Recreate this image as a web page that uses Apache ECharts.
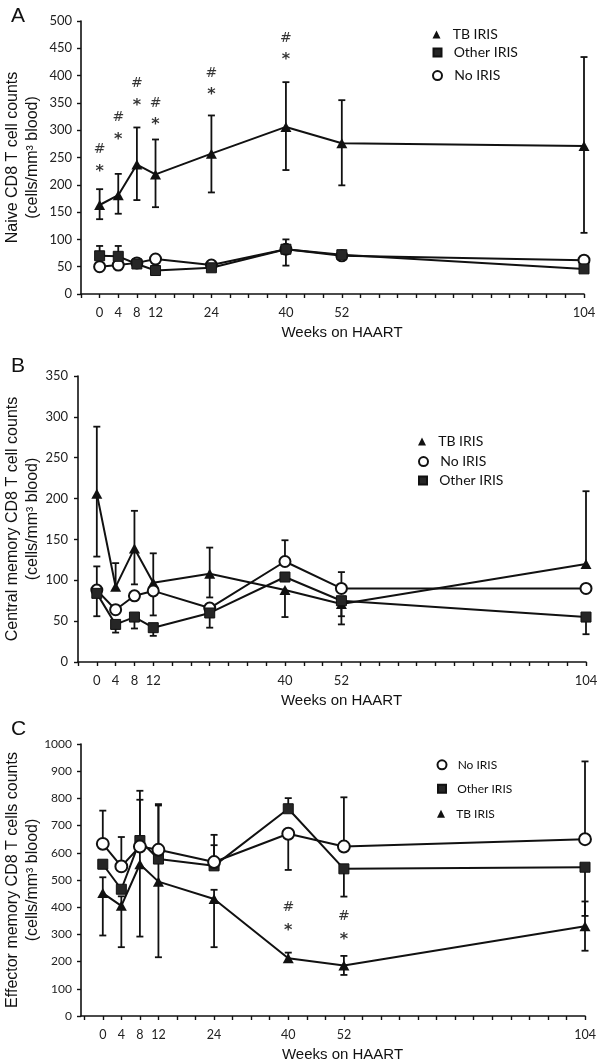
<!DOCTYPE html>
<html>
<head>
<meta charset="utf-8">
<script src="https://cdn.jsdelivr.net/npm/echarts@6/dist/echarts.min.js"></script>
<style>html,body{margin:0;padding:0;background:#fff}#c{width:600px;height:1063px}</style>
</head>
<body>
<div id="c"></div>
<script>
// ---- shared x values / tick labels ----
const weeks = [0, 4, 8, 12, 24, 40, 52, 104];
const xTicks = [-4,0,4,8,12,16,20,24,28,32,36,40,44,48,52,56,60,64,68,72,76,80,84,88,92,96,100,104];
const xLabelsAC = [0, 4, 8, 12, 24, 40, 52, 104];
const xLabelsB = [0, 4, 8, 12, 40, 52, 104];

// ---- Panel A: Naive CD8 T cells ----
const naiveTB      = [163, 181, 237, 219, 257, 306, 276, 271];
const naiveTBHi    = [192, 220, 305, 283, 327, 388, 355, 434];
const naiveTBLo    = [137, 147, 172, 159, 186, 227, 199, 112];
const naiveOther   = [70, 69, 55, 43, 48, 82, 72, 46];
const naiveOtherHi = [88, 88, null, null, null, 100, null, null];
const naiveOtherLo = [null, null, null, null, null, 52, null, null];
const naiveNo      = [50, 53, 57, 64, 53, 82, 70, 62];
const naiveNoHi    = [null, null, null, null, null, null, null, null];
const naiveNoLo    = [null, null, null, null, null, null, null, null];
const naiveSigWeeks = [0, 4, 8, 12, 24, 40];
const naiveHashY    = [264, 324, 385, 349, 405, 468];
const naiveStarY    = [231, 290, 352, 317, 372, 436];

// ---- Panel B: Central memory CD8 T cells ----
const cmTB      = [206, 92, 139, 97, 108, 88, 71, 120];
const cmTBHi    = [288, 121, 185, 133, 140, null, null, 209];
const cmTBLo    = [129, null, 95, 57, 79, 55, 56, null];
const cmNo      = [88, 64, 81, 87, 66, 123, 90, 90];
const cmNoHi    = [117, null, null, null, null, 149, 110, null];
const cmNoLo    = [56, null, null, null, null, null, null, null];
const cmOther   = [84, 46, 55, 42, 60, 104, 75, 55];
const cmOtherHi = [null, null, null, null, null, null, null, null];
const cmOtherLo = [null, 36, 41, 32, 42, null, 46, 34];

// ---- Panel C: Effector memory CD8 T cells ----
const emNo      = [633, 550, 623, 611, 566, 670, 623, 650];
const emNoHi    = [755, 658, null, null, 666, null, 804, 936];
const emNoLo    = [null, null, null, null, null, 537, null, null];
const emOther   = [558, 466, 645, 577, 552, 762, 541, 547];
const emOtherHi = [null, null, 795, 779, 628, 801, null, null];
const emOtherLo = [null, null, null, null, null, null, 439, 368];
const emTB      = [452, 405, 558, 494, 430, 212, 186, 330];
const emTBHi    = [510, 440, 828, 774, 464, 233, 221, 421];
const emTBLo    = [296, 253, 292, 216, 253, null, 151, 240];
const emSigWeeks = [40, 52];
const emHashY    = [400, 366];
const emStarY    = [329, 294];

const INK = '#111';
const LAB = 'Lato';
const ARIAL = 'Liberation Sans, Arial, sans-serif';

const styles = {
  'TB IRIS':    { symbol: 'triangle', size: [11, 10], item: { color: INK, borderWidth: 0 } },
  'Other IRIS': { symbol: 'rect', size: 10, item: { color: '#262626', borderColor: INK, borderWidth: 1 } },
  'No IRIS':    { symbol: 'circle', size: 11, item: { color: '#fff', borderColor: INK, borderWidth: 2 } }
};

function errRender(params, api) {
  const x = api.value(0);
  const p0 = api.coord([x, api.value(1)]);
  const p1 = api.coord([x, api.value(2)]);
  const hw = 3.5;
  return {
    type: 'group',
    children: [
      { type: 'line', shape: { x1: p0[0], y1: p0[1], x2: p1[0], y2: p1[1] }, style: { stroke: INK, lineWidth: 1.8 } },
      { type: 'line', shape: { x1: p1[0] - hw, y1: p1[1], x2: p1[0] + hw, y2: p1[1] }, style: { stroke: INK, lineWidth: 1.8 } }
    ]
  };
}

const series = [];
function addGroup(gi, name, vals, hi, lo, symScale) {
  const st = styles[name];
  const segs = [];
  weeks.forEach((w, i) => {
    if (hi[i] != null) segs.push([w, vals[i], hi[i]]);
    if (lo[i] != null) segs.push([w, vals[i], lo[i]]);
  });
  series.push({
    type: 'custom', name: name + ' error ' + gi, xAxisIndex: gi, yAxisIndex: gi,
    data: segs, renderItem: errRender, encode: { x: 0, y: [1, 2] }, silent: true, z: 2
  });
  let size = st.size;
  if (symScale) size = Array.isArray(size) ? size.map(s => s * symScale) : size * symScale;
  series.push({
    type: 'line', name: name, xAxisIndex: gi, yAxisIndex: gi,
    data: weeks.map((w, i) => [w, vals[i]]),
    symbol: st.symbol, symbolSize: size, showAllSymbol: true,
    lineStyle: { color: INK, width: 2 },
    itemStyle: st.item, z: 3, silent: true
  });
}
function addSig(gi, ws, ys, txt, fs, dy, weight) {
  series.push({
    type: 'scatter', name: 'sig ' + txt + gi, xAxisIndex: gi, yAxisIndex: gi,
    data: ws.map((w, i) => [w, ys[i]]), symbolSize: 0, silent: true, z: 5,
    label: { show: true, position: 'inside', offset: [0, dy], formatter: txt, fontFamily: 'DejaVu Sans', fontWeight: weight, fontSize: fs, color: '#000' }
  });
}

addGroup(0, 'TB IRIS', naiveTB, naiveTBHi, naiveTBLo);
addGroup(0, 'No IRIS', naiveNo, naiveNoHi, naiveNoLo);
addGroup(0, 'Other IRIS', naiveOther, naiveOtherHi, naiveOtherLo);
addSig(0, naiveSigWeeks, naiveHashY, '#', 14, 0, 'normal');
addSig(0, naiveSigWeeks, naiveStarY, '*', 16, 4, 'bold');

addGroup(1, 'TB IRIS', cmTB, cmTBHi, cmTBLo);
addGroup(1, 'No IRIS', cmNo, cmNoHi, cmNoLo);
addGroup(1, 'Other IRIS', cmOther, cmOtherHi, cmOtherLo);

addGroup(2, 'TB IRIS', emTB, emTBHi, emTBLo);
addGroup(2, 'Other IRIS', emOther, emOtherHi, emOtherLo);
addGroup(2, 'No IRIS', emNo, emNoHi, emNoLo, 1.08);
addSig(2, emSigWeeks, emHashY, '#', 14, 0, 'normal');
addSig(2, emSigWeeks, emStarY, '*', 16, 4, 'bold');

function xAxis(gi, min, labels, fs) {
  return {
    type: 'value', gridIndex: gi, min: min, max: 104,
    axisLine: { show: true, onZero: false, lineStyle: { color: INK, width: 1.6 } },
    axisTick: { show: true, inside: false, length: 4, customValues: xTicks, lineStyle: { color: INK, width: 1.4 } },
    axisLabel: { customValues: labels, margin: 12, fontFamily: LAB, fontSize: fs, color: '#222' },
    splitLine: { show: false },
    name: 'Weeks on HAART', nameLocation: 'middle', nameGap: 31, nameMoveOverlap: false,
    nameTextStyle: { fontFamily: ARIAL, fontSize: 15, color: INK, padding: [0, 0, 0, 19] }
  };
}
function yAxis(gi, max, interval, name, fs, gap, margin) {
  return {
    type: 'value', gridIndex: gi, min: 0, max: max, interval: interval,
    axisLine: { show: true, onZero: false, lineStyle: { color: INK, width: 1.6 } },
    axisTick: { show: true, inside: false, length: 4, lineStyle: { color: INK, width: 1.4 } },
    axisLabel: { margin: margin, fontFamily: LAB, fontSize: fs, color: '#222', formatter: v => String(v) },
    splitLine: { show: false },
    name: name, nameLocation: 'middle', nameRotate: 90, nameGap: gap, nameMoveOverlap: false,
    nameTextStyle: { fontFamily: ARIAL, fontSize: 16, lineHeight: 20, color: INK }
  };
}

function legendItem(name, iconLeft, centerY, fs, iconSize) {
  const st = styles[name];
  return {
    data: [{ name: name, icon: st.symbol }],
    left: iconLeft, top: centerY - fs * 0.6,
    itemWidth: iconSize, itemHeight: iconSize,
    formatter: '  {name}', selectedMode: false,
    textStyle: { fontFamily: LAB, fontSize: fs, color: INK }
  };
}

const option = {
  animation: false,
  backgroundColor: '#fff',
  title: [
    { text: 'A', left: 6, top: 1, textStyle: { fontFamily: ARIAL, fontSize: 21, fontWeight: 'normal', color: INK } },
    { text: 'B', left: 6, top: 351, textStyle: { fontFamily: ARIAL, fontSize: 21, fontWeight: 'normal', color: INK } },
    { text: 'C', left: 6, top: 714, textStyle: { fontFamily: ARIAL, fontSize: 21, fontWeight: 'normal', color: INK } }
  ],
  grid: [
    { left: 81, top: 21, width: 503, height: 273, outerBoundsMode: 'none' },
    { left: 78, top: 376, width: 508, height: 286, outerBoundsMode: 'none' },
    { left: 81, top: 744, width: 504, height: 272, outerBoundsMode: 'none' }
  ],
  xAxis: [
    xAxis(0, -4, xLabelsAC, 13),
    xAxis(1, -4, xLabelsB, 13),
    xAxis(2, -4.7, xLabelsAC, 12.5)
  ],
  yAxis: [
    yAxis(0, 500, 50, 'Naive CD8 T cell counts\n(cells/mm³ blood)', 13, 38, 9),
    yAxis(1, 350, 50, 'Central memory CD8 T cell counts\n(cells/mm³ blood)', 13, 35, 10),
    yAxis(2, 1000, 100, 'Effector memory CD8 T cells counts\n(cells/mm³ blood)', 12, 38, 9)
  ],
  legend: [
    legendItem('TB IRIS', 427.5, 31, 14, 8),
    legendItem('Other IRIS', 427.5, 49, 14, 8),
    legendItem('No IRIS', 427, 72, 14, 9),
    legendItem('TB IRIS', 413, 438, 14, 8),
    legendItem('No IRIS', 413, 458, 14, 9),
    legendItem('Other IRIS', 413, 477, 14, 8),
    legendItem('No IRIS', 431.5, 761, 12, 9),
    legendItem('Other IRIS', 432, 785, 12, 8),
    legendItem('TB IRIS', 432, 810, 12, 8)
  ],
  series: series
};

const chart = echarts.init(document.getElementById('c'), null, { renderer: 'canvas' });
chart.setOption(option);
</script>
</body>
</html>
